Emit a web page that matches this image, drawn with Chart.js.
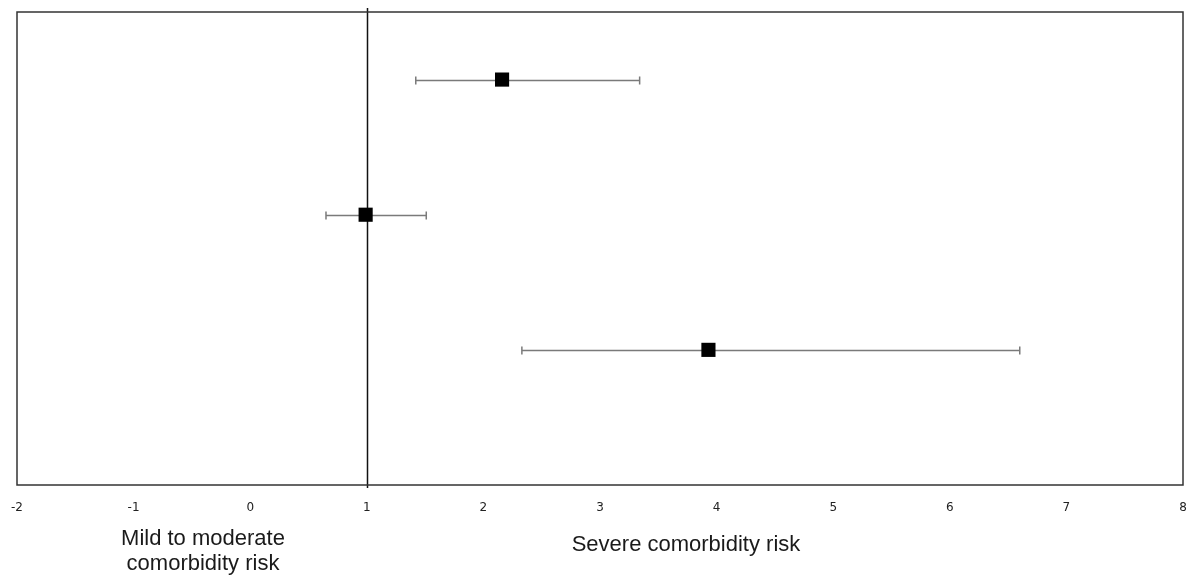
<!DOCTYPE html>
<html>
<head>
<meta charset="utf-8">
<script src="https://cdn.jsdelivr.net/npm/chart.js@4.4.0/dist/chart.umd.min.js"></script>
<style>
  html, body { margin: 0; padding: 0; background: #fff; }
  #wrap { position: relative; width: 1193px; height: 577px; }
  .lbl { position: absolute; font-family: "Liberation Sans", Arial, sans-serif; font-size: 22px; color: #1a1a1a; text-align: center; line-height: 25px; white-space: nowrap; }
</style>
</head>
<body>
<div id="wrap">
  <canvas id="c" width="1193" height="577"></canvas>
  <div class="lbl" style="left:53px; top:525px; width:300px;">Mild to moderate<br>comorbidity risk</div>
  <div class="lbl" style="left:536px; top:531px; width:300px;">Severe comorbidity risk</div>
</div>
<script>
// Data
const rows = [3, 2, 1];               // vertical positions (top to bottom)
const estimates = [2.16, 0.99, 3.93]; // point estimates
const lower = [1.42, 0.65, 2.33];     // lower CI
const upper = [3.34, 1.51, 6.60];     // upper CI
const xTicks = [-2, -1, 0, 1, 2, 3, 4, 5, 6, 7, 8];
const referenceValue = 1;

const points = estimates.map((v, i) => ({ x: v, y: rows[i] }));

const errorBars = {
  id: 'errorBars',
  beforeDatasetsDraw(chart) {
    const { ctx, scales: { x, y }, chartArea } = chart;
    ctx.save();
    // reference line
    ctx.strokeStyle = '#111';
    ctx.lineWidth = 1.5;
    const rx = Math.round(x.getPixelForValue(referenceValue)) + 0.5;
    ctx.beginPath();
    ctx.moveTo(rx, chartArea.top - 4);
    ctx.lineTo(rx, chartArea.bottom + 3);
    ctx.stroke();
    // error bars
    ctx.strokeStyle = '#7a7a7a';
    ctx.lineWidth = 1.5;
    for (let i = 0; i < estimates.length; i++) {
      const py = Math.round(y.getPixelForValue(rows[i])) + 0.5;
      const x1 = x.getPixelForValue(lower[i]);
      const x2 = x.getPixelForValue(upper[i]);
      ctx.beginPath();
      ctx.moveTo(x1, py); ctx.lineTo(x2, py);
      ctx.moveTo(x1, py - 4); ctx.lineTo(x1, py + 4);
      ctx.moveTo(x2, py - 4); ctx.lineTo(x2, py + 4);
      ctx.stroke();
    }
    ctx.restore();
  },
  afterDraw(chart) {
    const { ctx, chartArea } = chart;
    ctx.save();
    ctx.strokeStyle = '#333';
    ctx.lineWidth = 1.5;
    ctx.strokeRect(chartArea.left, chartArea.top, chartArea.right - chartArea.left, chartArea.bottom - chartArea.top);
    ctx.restore();
  }
};

new Chart(document.getElementById('c'), {
  type: 'scatter',
  data: {
    datasets: [{
      data: points,
      pointStyle: 'rect',
      pointRadius: 10,
      pointHoverRadius: 10,
      backgroundColor: '#000',
      borderColor: '#000',
      borderWidth: 0
    }]
  },
  options: {
    responsive: false,
    animation: false,
    events: [],
    layout: { padding: { left: 17, right: 8, top: 12, bottom: 0 } },
    plugins: { legend: { display: false }, tooltip: { enabled: false } },
    scales: {
      x: {
        type: 'linear',
        min: xTicks[0],
        max: xTicks[xTicks.length - 1],
        afterBuildTicks(scale) { scale.ticks = xTicks.map(v => ({ value: v })); },
        afterFit(scale) { scale.height = 92; scale.paddingLeft = 0; scale.paddingRight = 0; },
        grid: { display: false, drawTicks: false },
        border: { display: false },
        ticks: {
          padding: 16,
          color: '#222',
          font: { family: 'DejaVu Sans', size: 12 },
          maxRotation: 0,
          autoSkip: false
        }
      },
      y: {
        type: 'linear',
        min: 0,
        max: 3.5,
        display: false
      }
    }
  },
  plugins: [errorBars]
});
</script>
</body>
</html>
